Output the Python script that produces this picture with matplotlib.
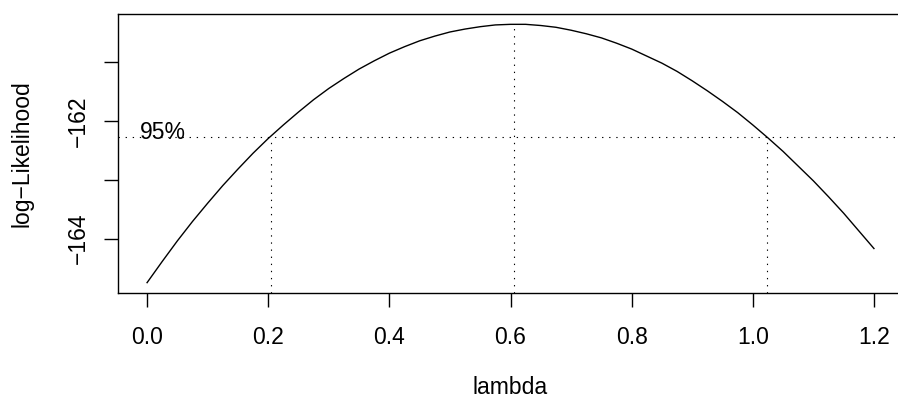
import matplotlib
matplotlib.use('Agg')
import matplotlib.pyplot as plt
import numpy as np

lam = [0.000, 0.025, 0.050, 0.075, 0.100, 0.125, 0.150, 0.175, 0.200, 0.225,
       0.250, 0.275, 0.300, 0.325, 0.350, 0.375, 0.400, 0.425, 0.450, 0.475,
       0.500, 0.525, 0.550, 0.575, 0.600, 0.625, 0.650, 0.675, 0.700, 0.725,
       0.750, 0.775, 0.800, 0.825, 0.850, 0.875, 0.900, 0.925, 0.950, 0.975,
       1.000, 1.025, 1.050, 1.075, 1.100, 1.125, 1.150, 1.175, 1.200]
loglik = [-164.75, -164.39, -164.04, -163.71, -163.40, -163.10, -162.82, -162.55, -162.30, -162.07,
          -161.85, -161.64, -161.45, -161.28, -161.12, -160.98, -160.85, -160.74, -160.64, -160.56,
          -160.49, -160.44, -160.40, -160.37, -160.36, -160.36, -160.38, -160.41, -160.46, -160.52,
          -160.59, -160.68, -160.78, -160.90, -161.02, -161.16, -161.32, -161.49, -161.67, -161.86,
          -162.07, -162.29, -162.52, -162.77, -163.02, -163.29, -163.57, -163.87, -164.17]

lam_max = 0.606
ci_lo = 0.204
ci_hi = 1.023
nivel95 = -162.28

xticks = [0.0, 0.2, 0.4, 0.6, 0.8, 1.0, 1.2]
yticks = [-164, -163, -162, -161]
ylabels = ['\u2212164', '', '\u2212162', '']

plt.rcParams['font.family'] = ['Liberation Sans', 'DejaVu Sans']
plt.rcParams['font.size'] = 16.5

fig = plt.figure(figsize=(8.98, 3.99), dpi=100)
ax = fig.add_axes([0.1314, 0.2657, 0.8742, 0.6992])

ax.plot(lam, loglik, color='black', linewidth=1.0)

# limites como en R (4% extra)
xpad = 0.04 * (max(lam) - min(lam))
ypad = 0.04 * (max(loglik) - min(loglik))
ax.set_xlim(min(lam) - xpad, max(lam) + xpad)
ylo = min(loglik) - ypad
yhi = max(loglik) + ypad
ax.set_ylim(ylo, yhi)

punteado = (0, (1.2, 5.2))
ax.axhline(nivel95, color='black', linewidth=0.8, linestyle=punteado)
ax.vlines([ci_lo, ci_hi], ylo, nivel95, color='black', linewidth=0.8, linestyles=[punteado])
ax.vlines([lam_max], ylo, max(loglik), color='black', linewidth=0.8, linestyles=[punteado])
ax.text(-0.012, nivel95 + 0.08, '95%', ha='left', va='center', fontsize=16.5)

ax.set_xticks(xticks)
ax.set_xticklabels(['%.1f' % t for t in xticks])
ax.set_yticks(yticks)
ax.set_yticklabels(ylabels, rotation=90, va='center')
ax.tick_params(direction='out', length=10, width=1.0, labelsize=16.5)
ax.tick_params(axis='x', pad=14)
ax.tick_params(axis='y', pad=10)

for s in ax.spines.values():
    s.set_linewidth(1.0)

ax.set_xlabel('lambda', labelpad=19)
ax.set_ylabel('log\u2212Likelihood', labelpad=24)

plt.savefig('out.png', dpi=100)
